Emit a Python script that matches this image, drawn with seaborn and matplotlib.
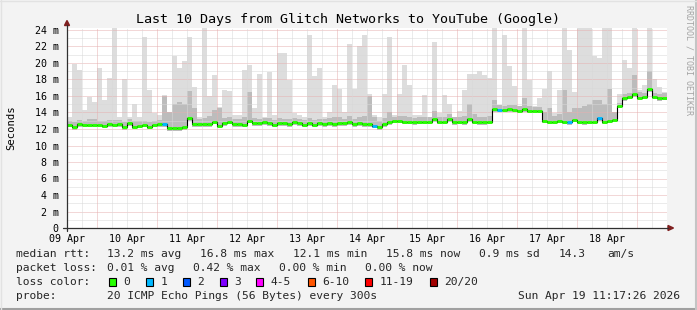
import numpy as np
import pandas as pd
import matplotlib
matplotlib.use("Agg")
import matplotlib.pyplot as plt
import seaborn as sns
from matplotlib.lines import Line2D
from matplotlib.patches import Polygon, Rectangle

# ---------------- data ----------------
title = "Last 10 Days from Glitch Networks to YouTube (Google)"
day_labels = ["09 Apr", "10 Apr", "11 Apr", "12 Apr", "13 Apr",
              "14 Apr", "15 Apr", "16 Apr", "17 Apr", "18 Apr"]
y_ticks = [0, 2, 4, 6, 8, 10, 12, 14, 16, 18, 20, 22, 24]
y_tick_labels = ["0", "2 m", "4 m", "6 m", "8 m", "10 m", "12 m",
                 "14 m", "16 m", "18 m", "20 m", "22 m", "24 m"]
step_hours = 2  # one sample every 2 hours, 120 samples over 10 days

median_ms = [
    12.5, 12.2, 12.6, 12.5, 12.5, 12.5, 12.5, 12.4, 12.6, 12.5,
    12.6, 12.2, 12.7, 12.3, 12.4, 12.5, 12.3, 12.5, 12.6, 12.6,
    12.1, 12.1, 12.1, 12.2, 13.3, 12.6, 12.6, 12.6, 12.6, 12.9,
    12.4, 12.7, 12.9, 12.6, 12.6, 12.5, 13.0, 12.7, 12.7, 12.8,
    12.7, 12.5, 12.7, 12.7, 12.6, 12.8, 12.7, 12.5, 12.7, 12.5,
    12.7, 12.6, 12.7, 12.6, 12.7, 12.7, 12.8, 12.6, 12.7, 12.6,
    12.6, 12.4, 12.2, 12.6, 12.8, 13.0, 13.0, 12.9, 12.9, 12.8,
    12.9, 12.9, 12.9, 13.2, 12.9, 12.9, 13.2, 12.8, 12.9, 12.8,
    13.2, 12.9, 12.8, 12.8, 12.9, 14.4, 14.3, 14.3, 14.4, 14.3,
    14.2, 14.4, 14.2, 14.2, 14.2, 13.0, 12.9, 12.9, 13.0, 12.9,
    12.8, 13.1, 12.9, 12.8, 12.9, 12.9, 13.3, 12.9, 13.0, 13.1,
    14.8, 15.7, 15.9, 16.2, 15.8, 15.9, 16.8, 15.9, 15.7, 15.8,
]
smoke_max_ms = [
    13.5, 19.9, 19.2, 14.3, 15.9, 15.3, 19.4, 15.5, 18.2, 24.5,
    13.5, 18.1, 13.5, 15.0, 13.5, 23.2, 16.7, 13.9, 13.7, 16.1,
    13.5, 20.8, 19.4, 20.2, 23.2, 17.1, 13.5, 24.5, 16.0, 18.5,
    14.7, 16.7, 16.6, 13.7, 13.7, 19.2, 19.7, 14.5, 18.7, 13.5,
    18.9, 13.7, 21.2, 21.2, 17.9, 13.9, 13.7, 13.5, 23.4, 18.4,
    19.4, 13.5, 14.0, 17.3, 16.9, 14.1, 22.3, 16.9, 22.0, 23.4,
    16.2, 13.7, 13.5, 16.2, 23.1, 13.7, 16.2, 19.8, 17.3, 13.7,
    13.7, 16.1, 13.5, 22.6, 13.9, 16.1, 15.0, 13.5, 14.2, 16.7,
    18.7, 18.7, 19.0, 18.6, 18.2, 24.5, 14.9, 23.4, 19.6, 17.2,
    14.8, 24.5, 17.9, 14.8, 15.7, 16.9, 19.0, 13.9, 16.7, 24.5,
    21.6, 16.5, 24.5, 24.5, 24.5, 20.8, 20.6, 24.5, 24.5, 13.8,
    16.3, 20.4, 19.4, 24.5, 16.7, 17.3, 24.5, 18.1, 17.1, 16.5,
]
smoke_mid_ms = [
    13.0, 12.8, 13.1, 13.0, 13.2, 13.2, 13.0, 13.0, 13.1, 13.1,
    13.1, 12.9, 13.2, 13.0, 13.0, 13.0, 12.9, 13.0, 13.1, 16.0,
    14.0, 15.0, 15.3, 15.0, 16.6, 14.5, 13.2, 13.3, 13.6, 14.3,
    14.6, 13.3, 13.5, 13.2, 13.2, 13.5, 16.5, 13.3, 13.2, 13.3,
    13.3, 13.1, 13.3, 13.2, 13.2, 13.3, 13.2, 13.1, 13.3, 13.1,
    13.2, 13.2, 13.3, 13.4, 13.4, 13.2, 13.6, 13.2, 13.5, 13.6,
    16.0, 13.4, 13.0, 13.3, 14.0, 13.5, 13.6, 13.6, 13.4, 13.3,
    13.4, 13.5, 13.4, 14.2, 13.4, 13.5, 13.8, 13.4, 13.5, 13.6,
    15.0, 13.8, 13.5, 13.4, 13.6, 15.5, 14.9, 14.8, 14.9, 14.9,
    14.8, 15.8, 14.8, 14.7, 14.7, 14.0, 14.5, 13.6, 13.8, 16.7,
    14.0, 14.5, 14.5, 14.8, 15.0, 15.5, 15.5, 15.0, 16.9, 14.0,
    15.2, 16.2, 16.4, 18.5, 16.5, 16.4, 19.0, 16.4, 16.3, 16.4,
]
loss_one_bins = [19, 61, 86, 100, 106]   # samples with 1/20 packets lost

loss_labels = ["0", "1", "2", "3", "4-5", "6-10", "11-19", "20/20"]
loss_colors = ["#26ff00", "#00b8ff", "#0059ff", "#7e00ff",
               "#ff00ff", "#ff5500", "#ff0000", "#a10000"]

# ---------------- figure ----------------
W, H = 697, 310
sns.set_style("white")
plt.rcParams["font.family"] = ["DejaVu Sans Mono"]

fig = plt.figure(figsize=(W / 100, H / 100), dpi=100)
fig.patch.set_facecolor("#f3f3f3")

def fx(x):
    return x / W

def fy(y):
    return 1 - y / H

y0_px, px_per_ms = 228, 8.25
ymax = 24.2
ax = fig.add_axes([fx(67), fy(y0_px), 600 / W, ymax * px_per_ms / H])
ax.set_facecolor("white")
ax.set_xlim(0, 10)
ax.set_ylim(0, ymax)
for s in ax.spines.values():
    s.set_visible(False)

n = len(median_ms)
t = np.arange(n) * step_hours / 24.0
width = step_hours / 24.0
med = np.array(median_ms)
smax = np.array(smoke_max_ms)
smid = np.array(smoke_mid_ms)
base = med - 0.3

# smoke
ax.bar(t, smax - base, bottom=base, width=width, align="edge",
       color="#dddddd", linewidth=0, zorder=1)
ax.bar(t, smid - base, bottom=base, width=width, align="edge",
       color="#bcbcbc", linewidth=0, zorder=2)

# median: black step line + loss-coloured segments
df = pd.DataFrame({"t": np.append(t, 10.0), "ms": np.append(med, med[-1])})
sns.lineplot(data=df, x="t", y="ms", ax=ax, color="#000000", linewidth=0.8,
             drawstyle="steps-post", zorder=6)
seg_colors = [loss_colors[1] if i in loss_one_bins else loss_colors[0]
              for i in range(n)]
ax.hlines(med, t, t + width, colors=seg_colors, linewidth=2.1, zorder=7)
ax.set_xlabel("")
ax.set_ylabel("")

# grid (dotted, drawn over the smoke like rrdtool)
pink = "#e6b0b0"
grey = "#d8d8d8"
dot = (0, (1, 1))
for y in range(1, 25):
    ax.axhline(y, color=pink if y % 2 == 0 else grey, linestyle=dot,
               linewidth=0.72, zorder=5)
for k in range(1, 40):
    xv = k * 0.25
    ax.axvline(xv, color=pink if k % 4 == 2 else grey, linestyle=dot,
               linewidth=0.72, zorder=5)

# ticks
ax.set_yticks(y_ticks)
ax.set_yticklabels(y_tick_labels)
ax.set_yticks([v for v in range(1, 25, 2)], minor=True)
ax.tick_params(axis="y", which="major", length=2.9, width=0.72, color=pink,
               pad=3.0, labelsize=7.2, labelcolor="#000000")
ax.tick_params(axis="y", which="minor", length=2.9, width=0.72, color=grey)
ax.set_xticks([k + 0.5 for k in range(10)])
ax.set_xticklabels([])
ax.set_xticks([k * 0.25 for k in range(41) if k % 4 != 2], minor=True)
ax.tick_params(axis="x", which="major", length=2.9, width=0.72, color=pink)
ax.tick_params(axis="x", which="minor", length=2.9, width=0.72, color=grey)

for k, lab in enumerate(day_labels):
    fig.text(fx(67 + 60 * k), fy(238.5), lab, ha="center", va="center",
             fontsize=7.2, color="#000000")

# axes lines and arrows
axis_col = "#303030"
arrow_col = "#7f1f1f"
fig.add_artist(Line2D([fx(63), fx(668)], [fy(228), fy(228)],
                      color=axis_col, linewidth=0.9))
fig.add_artist(Line2D([fx(67), fx(67)], [fy(231), fy(25)],
                      color=axis_col, linewidth=0.9))
fig.add_artist(Polygon([[fx(668), fy(225.5)], [fx(673.5), fy(228)],
                        [fx(668), fy(230.5)]], closed=True,
                       color=arrow_col, transform=fig.transFigure))
fig.add_artist(Polygon([[fx(64.5), fy(25.5)], [fx(67), fy(20.5)],
                        [fx(69.5), fy(25.5)]], closed=True,
                       color=arrow_col, transform=fig.transFigure))

# texts
fig.text(fx(348), fy(19), title, ha="center", va="center", fontsize=9.6,
         color="#000000")
fig.text(fx(11), fy(128), "Seconds", ha="center", va="center",
         rotation=90, fontsize=7.6, color="#000000")
fig.text(fx(688.5), fy(5), "RRDTOOL / TOBI OETIKER", ha="center", va="top",
         rotation=270, fontsize=6.0, color="#a4a4a4")

fs = 8.1
row1 = [(16, "median rtt:"), (107, "13.2 ms avg"), (200.5, "16.8 ms max"),
        (293, "12.1 ms min"), (386, "15.8 ms now"), (479, "0.9 ms sd"),
        (558.5, "14.3"), (607, "am/s")]
row2 = [(16, "packet loss:"), (107, "0.01 % avg"), (193, "0.42 % max"),
        (279, "0.00 % min"), (365, "0.00 % now")]
for x, s in row1:
    fig.text(fx(x), fy(254), s, ha="left", va="center", fontsize=fs)
for x, s in row2:
    fig.text(fx(x), fy(268.3), s, ha="left", va="center", fontsize=fs)

fig.text(fx(16), fy(282.3), "loss color:", ha="left", va="center", fontsize=fs)
box_x = [109, 146, 183, 219.5, 256, 307.5, 365, 430]
for bx, lab, col in zip(box_x, loss_labels, loss_colors):
    fig.add_artist(Rectangle((fx(bx), fy(286)), 7 / W, 8 / H,
                             facecolor=col, edgecolor="#000000",
                             linewidth=0.8, transform=fig.transFigure))
    fig.text(fx(bx + 14.5), fy(282.3), lab, ha="left", va="center",
             fontsize=fs)

fig.text(fx(16), fy(296), "probe:", ha="left", va="center", fontsize=fs)
fig.text(fx(107), fy(296), "20 ICMP Echo Pings (56 Bytes) every 300s",
         ha="left", va="center", fontsize=fs)
fig.text(fx(680.5), fy(296), "Sun Apr 19 11:17:26 2026", ha="right",
         va="center", fontsize=fs)

# 3-D frame of the image
fig.add_artist(Line2D([0, 1], [fy(309), fy(309)], color="#a0a0a0",
                      linewidth=1.5))
fig.add_artist(Line2D([fx(696), fx(696)], [0, 1], color="#c4c4c4",
                      linewidth=1.5))
fig.add_artist(Line2D([0, 1], [fy(0.5), fy(0.5)], color="#e2e2e2",
                      linewidth=1.0))
fig.add_artist(Line2D([fx(0.5), fx(0.5)], [0, 1], color="#e2e2e2",
                      linewidth=1.0))

fig.savefig("out.png", dpi=100, facecolor=fig.get_facecolor())
